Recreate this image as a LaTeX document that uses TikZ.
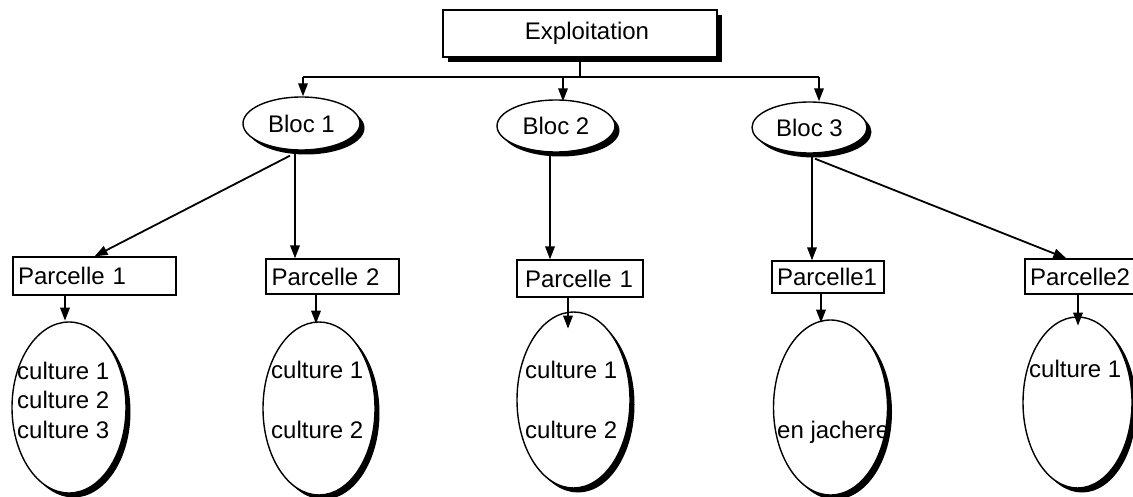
\documentclass[tikz,border=0pt]{standalone}
\usepackage{fontspec}
\setmainfont{Liberation Sans}
\usetikzlibrary{shapes.geometric,arrows.meta,shadows}
\begin{document}
\begin{tikzpicture}[x=1pt,y=-1pt,
  every node/.style={font=\fontsize{24}{29}\selectfont, inner sep=0pt},
  shad/.style={general shadow={fill=black, shadow xshift=#1, shadow yshift=-#1}},
  topbox/.style={draw, line width=1.4pt, fill=white, shad=5pt},
  pbox/.style={draw, line width=1.3pt, fill=white, align=left, inner xsep=5pt},
  bloc/.style={ellipse, draw, line width=1.4pt, fill=white, shad=4.5pt},
  cell/.style={ellipse, draw, line width=1.4pt, fill=white, shad=4.5pt},
  txt/.style={anchor=base west},
  conn/.style={line width=1.5pt},
  arr/.style={line width=1.8pt, -{Triangle[length=13pt,width=9.5pt]}}
]
\useasboundingbox (0,0) rectangle (1133,497);

% top node
\node[topbox, minimum width=274pt, minimum height=47pt, text width=264pt, align=center, inner xsep=5pt] (expl) at (580,33.5) {\hspace*{14pt}Exploitation};

% blocs
\node[bloc, minimum width=117pt, minimum height=53pt] (b1) at (301.5,123.5) {Bloc 1};
\node[bloc, minimum width=118pt, minimum height=52pt] (b2) at (556,126) {Bloc 2};
\node[bloc, minimum width=115pt, minimum height=51pt] (b3) at (809.5,127.5) {Bloc 3};

% bus
\coordinate (busM) at (580,77);
\coordinate (busL) at (303,77);
\coordinate (busC) at (563,77);
\coordinate (busR) at (819,77);
\draw[conn] (expl.south) -- (busM);
\draw[conn] (busL) -- (busR);
\draw[arr] (busL) -- (busL |- b1.north);
\draw[arr] (busC) -- ([yshift=-2pt]busC |- b2.north);
\draw[arr] (busR) -- (busR |- b3.north);

% parcel boxes
\node[pbox, minimum width=163pt, minimum height=38pt, text width=153pt] (p11) at (94.5,276) {Parcelle 1};
\node[pbox, minimum width=133pt, minimum height=35pt, text width=122pt, inner xsep=5.5pt] (p12) at (332.5,276.5) {Parcelle 2};
\node[pbox, minimum width=126pt, minimum height=37pt, text width=110pt, inner xsep=8pt] (p21) at (580,278.5) {Parcelle 1};
\node[pbox, minimum width=112pt, minimum height=32pt, text width=102pt] (p31) at (828,277) {Parcelle1};
\node[pbox, minimum width=110pt, minimum height=35pt, text width=100pt] (p32) at (1080,276.5) {Parcelle2};

% bloc to parcel
\draw[arr] ([xshift=-11.5pt,yshift=-5pt]b1.south) -- (p11.north);
\draw[arr] ([xshift=-6.5pt]b1.south) -- ([xshift=-6.5pt]b1.south |- p12.north);
\draw[arr] ([xshift=-6pt]b2.south) -- ([xshift=-6pt]b2.south |- p21.north);
\draw[arr] ([xshift=2.5pt]b3.south) -- ([xshift=2.5pt]b3.south |- p31.north);
\draw[arr] ([xshift=5.5pt,yshift=-5pt]b3.south) -- ([xshift=42pt]p32.north west);

% culture ellipses
\node[cell, minimum width=114pt, minimum height=171pt] (c1) at (69,407.5) {};
\node[cell, minimum width=112pt, minimum height=173pt] (c2) at (319,408.5) {};
\node[cell, minimum width=113pt, minimum height=176pt] (c3) at (573.5,400) {};
\node[cell, minimum width=114pt, minimum height=175pt] (c4) at (830.5,407.5) {};
\node[cell, minimum width=109pt, minimum height=171pt] (c5) at (1077.5,402.5) {};

% parcel to culture
\draw[arr] ([xshift=-29.5pt]p11.south) -- ++(0,25);
\draw[arr] ([xshift=-16.5pt]p12.south) -- ++(0,29);
\draw[arr] ([xshift=-12pt]p21.south) -- ++(0,31);
\draw[arr] ([xshift=-7pt]p31.south) -- ++(0,29);
\draw[arr] ([xshift=-2pt]p32.south) -- ++(0,31);

% texts in culture ellipses
\node[txt] (t11) at (17,379) {culture 1};
\node[txt] (t12) at (17,408) {culture 2};
\node[txt] (t13) at (17,438) {culture 3};
\node[txt] (t21) at (271,378) {culture 1};
\node[txt] (t22) at (271,438) {culture 2};
\node[txt] (t31) at (525,378) {culture 1};
\node[txt] (t32) at (525,438) {culture 2};
\node[txt] (t41) at (777,438) {en jachere};
\node[txt] (t51) at (1029,377) {culture 1};
\end{tikzpicture}
\end{document}
